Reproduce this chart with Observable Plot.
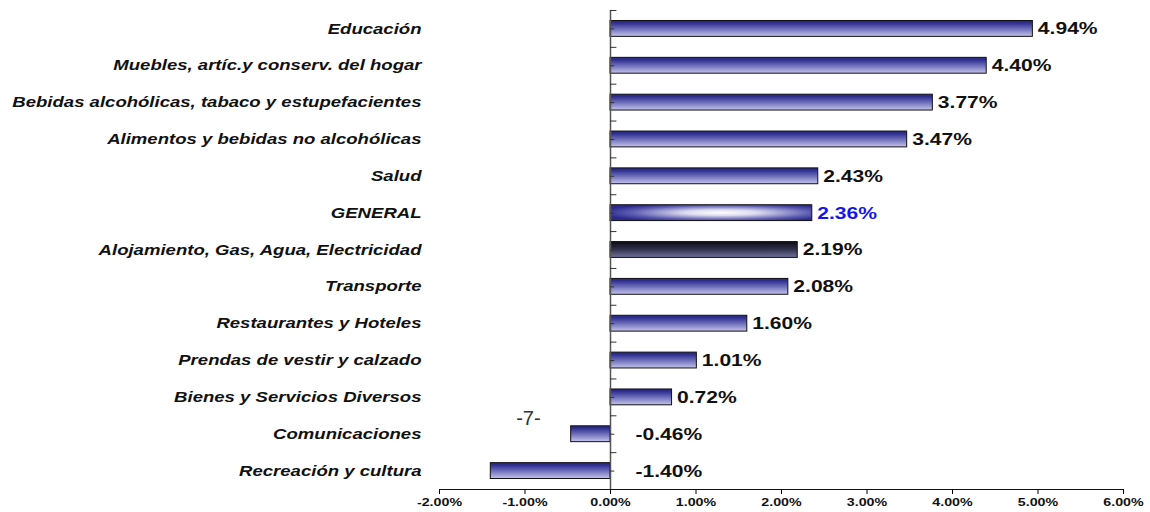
<!DOCTYPE html>
<html><head><meta charset="utf-8">
<script src="https://cdn.jsdelivr.net/npm/d3@7"></script>
<script src="https://cdn.jsdelivr.net/npm/@observablehq/plot@0.6"></script>
<style>
body{margin:0;background:#fff}
svg{font-family:"Liberation Sans",Arial,sans-serif}
</style>
</head><body><div id="chart"></div>
<script>
const categories = [
  "Educación",
  "Muebles, artíc.y conserv. del hogar",
  "Bebidas alcohólicas, tabaco y estupefacientes",
  "Alimentos y bebidas no alcohólicas",
  "Salud",
  "GENERAL",
  "Alojamiento, Gas, Agua, Electricidad",
  "Transporte",
  "Restaurantes y Hoteles",
  "Prendas de vestir y calzado",
  "Bienes y Servicios Diversos",
  "Comunicaciones",
  "Recreación y cultura"
];
const values = [4.94, 4.40, 3.77, 3.47, 2.43, 2.36, 2.19, 2.08, 1.60, 1.01, 0.72, -0.46, -1.40];
const xTicks = [-2, -1, 0, 1, 2, 3, 4, 5, 6];
const pageMark = "-7-";

const data = categories.map((c, i) => ({cat: c, value: values[i]}));
const kind = d => d.cat === "GENERAL" ? "general" : d.cat.startsWith("Alojamiento") ? "dark" : "normal";

const W = 1150, H = 512, mt = 10, mb = 23, ml = 439, mr = 27;
const step = (H - mt - mb) / categories.length;
const fmt = v => v.toFixed(2) + "%";

const chart = Plot.plot({
  width: W, height: H,
  marginTop: mt, marginBottom: mb, marginLeft: ml, marginRight: mr,
  x: {domain: [-2, 6], label: null},
  y: {domain: categories, paddingInner: 0.57, paddingOuter: 0.285, round: false, label: null},
  marks: [
    Plot.barX(data.filter(d => kind(d) === "normal"), {x: "value", y: "cat", fill: "url(#gNormal)", stroke: "#111", strokeWidth: 1}),
    Plot.barX(data.filter(d => kind(d) === "dark"), {x: "value", y: "cat", fill: "url(#gDark)", stroke: "#111", strokeWidth: 1}),
    Plot.barX(data.filter(d => kind(d) === "general"), {x: "value", y: "cat", fill: "url(#gGeneral)", stroke: "#111", strokeWidth: 1}),
    Plot.ruleX([0], {stroke: "#555", strokeWidth: 1.5}),
    Plot.ruleY(categories, {y: d => d, x1: 0, x2: 0.075, dy: -step / 2, stroke: "#333"}),
    Plot.ruleY(categories.slice(-1), {y: d => d, x1: 0, x2: 0.075, dy: step / 2, stroke: "#333"}),
    Plot.ruleY(categories, {y: d => d, x1: 0, x2: 0.05, stroke: "#333"}),
    Plot.frame({anchor: "bottom", stroke: "#111"}),
    Plot.axisX({ticks: xTicks, tickFormat: fmt, tickSize: 5, tickPadding: 3, fontSize: 11.5, fontWeight: "bold", fill: "#111", label: null, className: "xlab"}),
    Plot.axisY({anchor: "left", tickSize: 0, tickPadding: 18, fontSize: 14.5, fontWeight: "bold", fontStyle: "italic", fill: "#111", label: null, className: "ylab"}),
    Plot.text(data.filter(d => d.value >= 0 && kind(d) !== "general"), {x: "value", y: "cat", text: d => fmt(d.value), dx: 5, textAnchor: "start", fontSize: 17, fontWeight: "bold", fill: "#111", className: "vlab"}),
    Plot.text(data.filter(d => kind(d) === "general"), {x: "value", y: "cat", text: d => fmt(d.value), dx: 5, textAnchor: "start", fontSize: 17, fontWeight: "bold", fill: "#1515ee", className: "vlab"}),
    Plot.text(data.filter(d => d.value < 0), {x: 0, y: "cat", text: d => fmt(d.value), dx: 25, textAnchor: "start", fontSize: 17, fontWeight: "bold", fill: "#111", className: "vlab"}),
    Plot.text([pageMark], {x: () => -0.96, y: () => categories[11], text: d => d, dy: -16, fontSize: 20, fontFamily: "'Liberation Sans Narrow','Liberation Sans',sans-serif", fill: "#333"})
  ]
});

const svg = d3.select(chart);
function stretch(selector, s) {
  svg.selectAll(selector).each(function() {
    const t = this.getAttribute("transform") || "";
    const x = +(this.getAttribute("x") || 0);
    this.setAttribute("transform", `${t} translate(${x},0) scale(${s},1) translate(${-x},0)`);
  });
}
stretch(".ylab text", 1.28);
stretch(".xlab text", 1.24);
stretch(".vlab text", 1.24);

const defs = svg.insert("defs", ":first-child");
const gN = defs.append("linearGradient").attr("id", "gNormal").attr("x1", 0).attr("y1", 0).attr("x2", 0).attr("y2", 1);
[[0, "#262680"], [0.15, "#2e2e90"], [0.5, "#6a6ab8"], [1, "#c4c4ec"]].forEach(([o, c]) => gN.append("stop").attr("offset", o).attr("stop-color", c));
const gD = defs.append("linearGradient").attr("id", "gDark").attr("x1", 0).attr("y1", 0).attr("x2", 0).attr("y2", 1);
[[0, "#0c0c14"], [0.45, "#2c2c46"], [1, "#72729c"]].forEach(([o, c]) => gD.append("stop").attr("offset", o).attr("stop-color", c));
const gG = defs.append("radialGradient").attr("id", "gGeneral").attr("cx", 0.55).attr("cy", 0.5).attr("r", 0.6);
[[0, "#ffffff"], [0.3, "#dcdcf0"], [0.75, "#5a5ab0"], [1, "#2a2a8c"]].forEach(([o, c]) => gG.append("stop").attr("offset", o).attr("stop-color", c));

document.getElementById("chart").append(chart);
</script>
</body></html>
